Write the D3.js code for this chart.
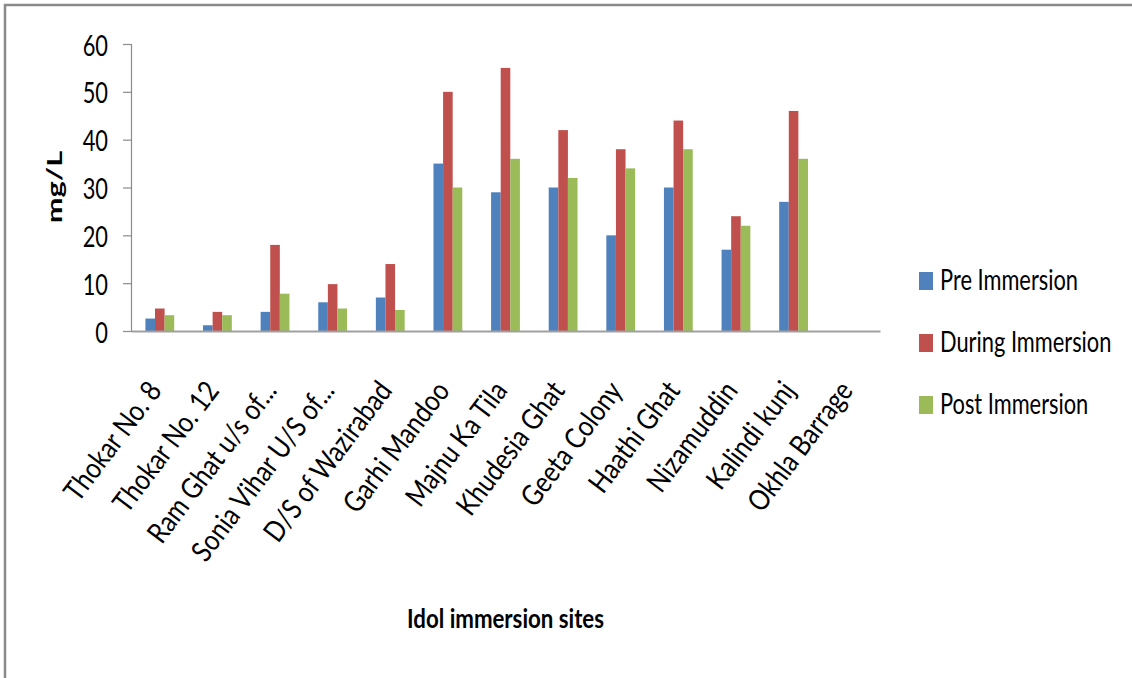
<!DOCTYPE html>
<html>
<head>
<meta charset="utf-8">
<script src="https://cdn.jsdelivr.net/npm/d3@7"></script>
<style>
  html, body { margin: 0; padding: 0; background: #fff; }
  svg { display: block; }
  text { font-family: Lato, "Open Sans", sans-serif; fill: #000; }
</style>
</head>
<body>
<svg id="chart" width="1132" height="678"></svg>
<script>
// Idol immersion sites along the river, mg/L
const sites = [
  "Thokar No. 8", "Thokar No. 12", "Ram Ghat u/s of...", "Sonia Vihar U/S of...",
  "D/S of Wazirabad", "Garhi Mandoo", "Majnu Ka Tila", "Khudesia Ghat",
  "Geeta Colony", "Haathi Ghat", "Nizamuddin", "Kalindi kunj", "Okhla Barrage"
];
const seriesNames = ["Pre Immersion", "During Immersion", "Post Immersion"];
const preImmersion    = [2.6, 1.2, 4, 6, 7, 35, 29, 30, 20, 30, 17, 27, null];
const duringImmersion = [4.7, 4, 18, 9.8, 14, 50, 55, 42, 38, 44, 24, 46, null];
const postImmersion   = [3.3, 3.3, 7.8, 4.7, 4.4, 30, 36, 32, 34, 38, 22, 36, null];
const yTicks = [0, 10, 20, 30, 40, 50, 60];
const colors = ["#4F81BD", "#C0504D", "#9BBB59"];

const seriesValues = [preImmersion, duringImmersion, postImmersion];
const SX = 0.78; // horizontal squeeze applied to the text glyphs

const svg = d3.select("#chart");

// Frame lines (top and left)
svg.append("path")
  .attr("d", "M5,678 V5 H1132")
  .attr("fill", "none")
  .attr("stroke", "#8a8a8a")
  .attr("stroke-width", 2.5);

const plot = { left: 131, right: 880, top: 44, bottom: 331 };

const x0 = d3.scaleBand()
  .domain(sites)
  .range([plot.left, plot.right])
  .paddingInner(0.5)
  .paddingOuter(0.25);

const x1 = d3.scaleBand()
  .domain(seriesNames)
  .range([0, x0.bandwidth()]);

const y = d3.scaleLinear()
  .domain([0, 60])
  .range([plot.bottom, plot.top]);

// Bars
const groups = svg.append("g")
  .selectAll("g")
  .data(sites)
  .join("g")
  .attr("transform", d => `translate(${x0(d)},0)`);

groups.selectAll("rect")
  .data((d, i) => seriesNames.map((s, k) => ({ s, v: seriesValues[k][i], k })))
  .join("rect")
  .filter(d => d.v != null)
  .attr("x", d => x1(d.s))
  .attr("width", x1.bandwidth())
  .attr("y", d => y(d.v))
  .attr("height", d => y(0) - y(d.v))
  .attr("fill", d => colors[d.k]);

// Y axis
const yAxis = svg.append("g")
  .attr("transform", `translate(${plot.left},0)`)
  .call(d3.axisLeft(y).tickValues(yTicks).tickSize(8).tickPadding(0).tickFormat(d3.format("d")));
yAxis.select(".domain").attr("stroke", "#8c8c8c").attr("stroke-width", 1.2);
yAxis.selectAll(".tick line").attr("stroke", "#8c8c8c").attr("stroke-width", 1.2);
yAxis.selectAll(".tick text")
  .attr("x", null).attr("dy", null)
  .attr("font-size", 28)
  .attr("font-family", "Lato, sans-serif")
  .attr("fill", "#111")
  .attr("text-anchor", "end")
  .attr("dominant-baseline", "central")
  .attr("transform", `translate(-23,0) scale(${SX},1)`);

// X axis line
const xAxis = svg.append("g")
  .attr("transform", `translate(0,${plot.bottom})`)
  .call(d3.axisBottom(x0).tickSize(0).tickFormat(""));
xAxis.select(".domain").attr("stroke", "#a0a0a0").attr("stroke-width", 2.2);

// Category labels, slanted
svg.append("g")
  .selectAll("text")
  .data(sites)
  .join("text")
  .attr("transform", d => `translate(${x0(d) + x0.bandwidth() / 2 + 3},391) rotate(-53) scale(0.85,1)`)
  .attr("text-anchor", "end")
  .attr("font-size", 29)
  .text(d => d);

// Axis titles
svg.append("text")
  .attr("transform", `translate(62,187) rotate(-90) scale(1.1,0.72)`)
  .attr("text-anchor", "middle")
  .attr("font-size", 28)
  .attr("font-weight", "bold")
  .text("mg/L");

const xTitle = svg.append("text")
  .attr("text-anchor", "middle")
  .attr("font-size", 27)
  .attr("font-weight", "bold")
  .text("Idol immersion sites");
const xTitleW = xTitle.node().getComputedTextLength();
xTitle.attr("transform", `translate(${(plot.left + plot.right) / 2},628) scale(${197 / xTitleW},1)`);

// Legend
const legend = svg.append("g")
  .selectAll("g")
  .data(seriesNames)
  .join("g")
  .attr("transform", (d, i) => `translate(919,${281 + i * 62})`);

legend.append("rect")
  .attr("x", 0).attr("y", -9)
  .attr("width", 14).attr("height", 18)
  .attr("fill", (d, i) => colors[i]);

legend.append("text")
  .attr("transform", `translate(21,9) scale(${SX},1)`)
  .attr("font-size", 28)
  .text(d => d);
</script>
</body>
</html>
